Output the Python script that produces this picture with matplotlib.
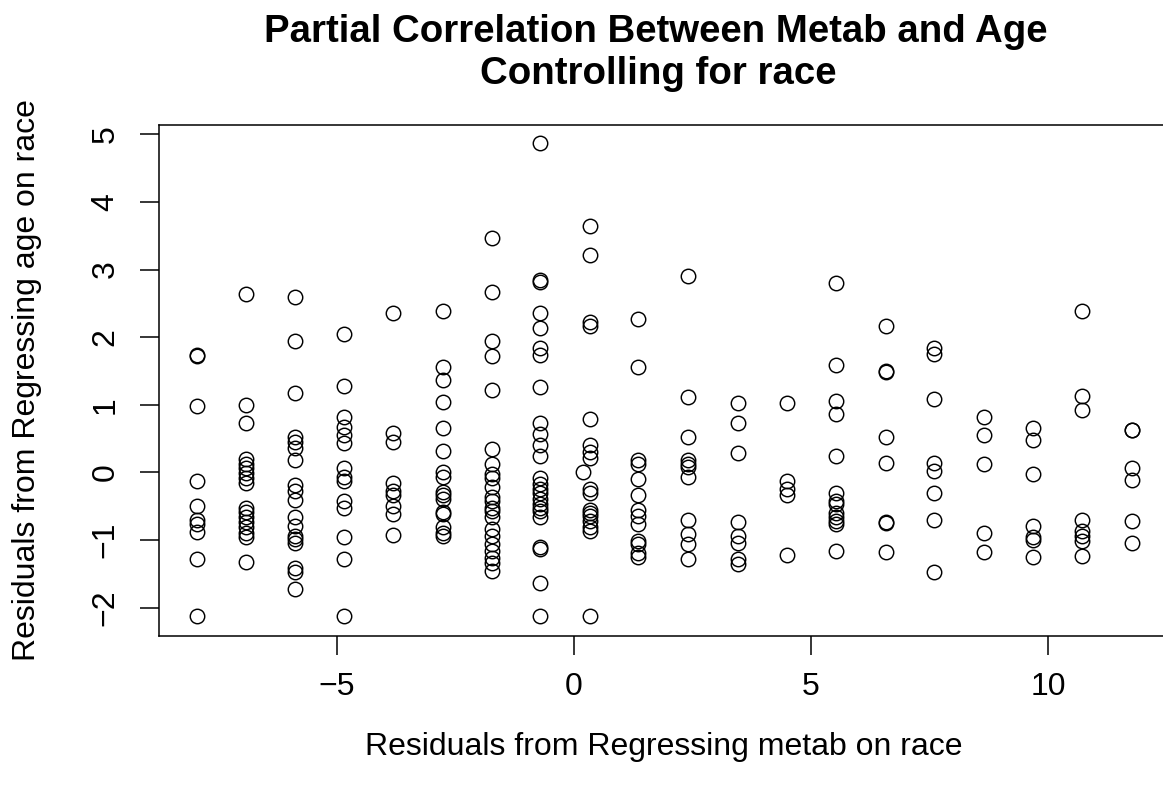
import matplotlib
matplotlib.use("Agg")
import matplotlib.pyplot as plt
import numpy as np

plt.rcParams['font.family'] = ['Liberation Sans', 'DejaVu Sans']

# residual of metab on race: one value per race/metab level (columns of points)
metab_levels = [-7.95, -6.92, -5.89, -4.85, -3.82, -2.76, -1.73, -0.72, 0.34, 1.35,
                2.41, 3.46, 4.49, 5.53, 6.58, 7.59, 8.65, 9.68, 10.72, 11.77]

# residual of age on race, grouped by the column they sit in
age_resid = [
    [1.74, 1.72, 0.98, -0.12, -0.50, -0.70, -0.76, -0.88, -1.28, -2.13],
    [2.64, 1.00, 0.73, 0.20, 0.13, 0.06, -0.01, -0.09, -0.16, -0.52, -0.59, -0.66,
     -0.74, -0.81, -0.89, -0.95, -1.32],
    [2.60, 1.95, 1.18, 0.53, 0.45, 0.36, 0.18, -0.18, -0.28, -0.41, -0.66, -0.79,
     -0.94, -0.98, -1.04, -1.41, -1.48, -1.73],
    [2.04, 1.28, 0.82, 0.67, 0.56, 0.43, 0.07, -0.07, -0.12, -0.42, -0.52, -0.96,
     -1.28, -2.12],
    [2.36, 0.58, 0.45, -0.15, -0.27, -0.34, -0.49, -0.61, -0.92],
    [2.38, 1.56, 1.37, 1.04, 0.65, 0.31, 0.00, -0.07, -0.29, -0.34, -0.39, -0.58,
     -0.61, -0.81, -0.89, -0.94],
    [3.46, 2.67, 1.95, 1.72, 1.22, 0.34, 0.13, -0.02, -0.09, -0.22, -0.37, -0.42,
     -0.52, -0.57, -0.66, -0.84, -0.94, -1.06, -1.16, -1.26, -1.34, -1.46],
    [4.87, 2.84, 2.82, 2.36, 2.13, 1.84, 1.74, 1.27, 0.73, 0.57, 0.40, 0.24, -0.09,
     -0.17, -0.24, -0.31, -0.39, -0.46, -0.52, -0.57, -0.66, -1.10, -1.13, -1.63, -2.13],
    [3.64, 3.22, 2.23, 2.16, 0.79, 0.40, 0.30, 0.21, -0.24, -0.31, -0.55, -0.60,
     -0.65, -0.72, -0.80, -0.87, -2.13],
    [2.27, 1.56, 0.19, 0.12, -0.10, -0.34, -0.56, -0.64, -0.76, -1.02, -1.06, -1.19, -1.25],
    [2.90, 1.12, 0.52, 0.19, 0.13, 0.08, -0.07, -0.71, -0.91, -1.06, -1.28],
    [1.02, 0.73, 0.28, -0.74, -0.94, -1.04, -1.28, -1.35],
    [1.03, -0.13, -0.24, -0.34, -1.22],
    [2.80, 1.59, 1.05, 0.86, 0.24, -0.31, -0.42, -0.47, -0.60, -0.66, -0.72, -0.77, -1.16],
    [2.17, 1.50, 1.48, 0.52, 0.14, -0.73, -0.75, -1.17],
    [1.84, 1.75, 1.09, 0.14, 0.02, -0.31, -0.70, -1.47],
    [0.82, 0.56, 0.12, -0.89, -1.17],
    [0.65, 0.48, -0.03, -0.79, -0.96, -1.00, -1.25],
    [2.38, 1.13, 0.92, -0.70, -0.86, -0.94, -1.01, -1.23],
    [0.63, 0.62, 0.06, -0.11, -0.72, -1.04],
]

# the lone point sitting between two columns
extra_x = [0.19]
extra_y = [0.0]

x_ticks = [-5, 0, 5, 10]
y_ticks = [-2, -1, 0, 1, 2, 3, 4, 5]

# flatten into point lists
xs = [lvl for lvl, col in zip(metab_levels, age_resid) for _ in col] + extra_x
ys = [v for col in age_resid for v in col] + extra_y

W, H = 1163, 790
fig = plt.figure(figsize=(W / 100, H / 100), dpi=100)
left, right, top, bottom = 159, 1169, 125, 636
ax = fig.add_axes([left / W, 1 - bottom / H, (right - left) / W, (bottom - top) / H])

ax.plot(xs, ys, linestyle='none', marker='o', markersize=10.4,
        markerfacecolor='none', markeredgecolor='black', markeredgewidth=1.05)

ax.set_xlim(-8.755, 12.55)
ax.set_ylim(-2.419, 5.137)

ax.set_xticks(x_ticks)
ax.set_xticklabels([f"\u2212{abs(t)}" if t < 0 else str(t) for t in x_ticks])
ax.set_yticks(y_ticks)
ax.set_yticklabels([f"\u2212{abs(t)}" if t < 0 else str(t) for t in y_ticks],
                   rotation=90, va='center')

for s in ax.spines.values():
    s.set_linewidth(1.1)
ax.tick_params(direction='out', length=13.7, width=1.1, labelsize=23)
ax.tick_params(axis='x', pad=12)
ax.tick_params(axis='y', pad=14)

# titles and axis labels, placed as in the base R layout
fig.text(656 / W, 1 - 32 / H, "Partial Correlation Between Metab and Age",
         ha='center', va='center', fontsize=27.6, fontweight='bold')
fig.text(658 / W, 1 - 74 / H, "Controlling for race",
         ha='center', va='center', fontsize=27.6, fontweight='bold')
fig.text(664 / W, 1 - 747 / H, "Residuals from Regressing metab on race",
         ha='center', va='center', fontsize=23)
fig.text(27 / W, 1 - 380 / H, "Residuals from Regressing age on race",
         ha='center', va='center', rotation=90, fontsize=23)

fig.savefig("out.png", dpi=100)
